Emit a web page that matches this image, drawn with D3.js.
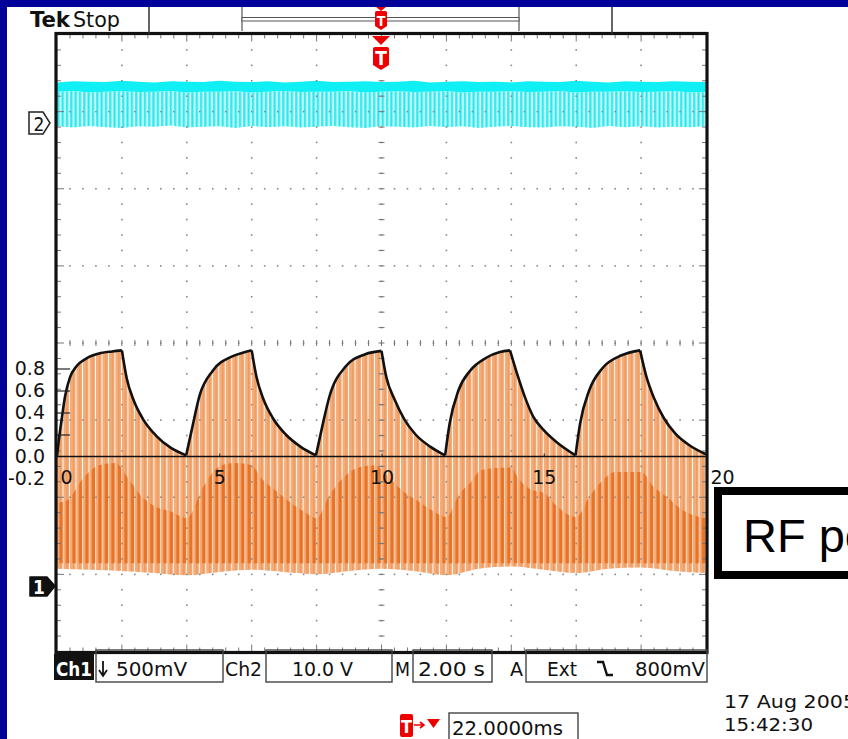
<!DOCTYPE html>
<html><head><meta charset="utf-8">
<script src="https://cdn.jsdelivr.net/npm/d3@7"></script>
<style>body{margin:0;background:#fff;overflow:hidden}svg{display:block}</style>
</head><body>
<svg id="c" width="848" height="739"></svg>
<script>
// ---------------- data ----------------
const timeDomain = [0, 20];
const xTickValues = [0, 5, 10, 15, 20];
const yTickValues = [-0.2, 0.0, 0.2, 0.4, 0.6, 0.8];

// black fitted envelope (overlay units)
const fitTime  = [0,0.07,0.14,0.25,0.4,0.6,0.9,1.35,1.7,2.0,
                  2.15,2.35,2.65,3.05,3.5,3.98,
                  4.15,4.4,4.8,5.4,5.75,6.0,
                  6.15,6.35,6.65,7.05,7.5,7.98,
                  8.15,8.4,8.9,9.5,10.0,
                  10.15,10.4,10.7,11.05,11.5,11.96,
                  12.1,12.37,12.73,13.24,13.65,13.96,
                  14.17,14.42,14.68,15.0,15.4,15.98,
                  16.12,16.4,16.8,17.4,17.97,
                  18.15,18.4,18.7,19.05,19.5,20.0];
const fitValue = [0,0.18,0.33,0.55,0.72,0.82,0.89,0.94,0.955,0.965,
                  0.71,0.52,0.34,0.19,0.08,0.01,
                  0.24,0.56,0.78,0.91,0.945,0.965,
                  0.72,0.53,0.35,0.2,0.09,0.01,
                  0.24,0.55,0.82,0.93,0.96,
                  0.72,0.52,0.34,0.2,0.09,0.01,
                  0.3,0.6,0.78,0.9,0.95,0.965,
                  0.76,0.54,0.36,0.24,0.13,0.01,
                  0.3,0.6,0.8,0.92,0.965,
                  0.74,0.53,0.35,0.21,0.1,0.02];

// upper edge of the darker pulse band below zero
const darkTime  = [0,0.3,0.8,1.3,1.8,2.2,2.6,3.0,3.5,4.0,4.5,5.0,5.5,6.0,6.3,6.7,7.2,7.6,8.0,
                   8.4,8.8,9.3,9.8,10.2,10.6,11.1,11.5,12.0,12.4,12.7,13.1,14.0,14.2,14.6,15.0,
                   15.4,16.0,16.4,16.8,17.2,18.0,18.4,18.8,19.3,19.8,20];
const darkValue = [-0.42,-0.4,-0.2,-0.08,-0.06,-0.2,-0.36,-0.45,-0.5,-0.56,-0.28,-0.09,-0.06,-0.08,-0.2,-0.3,-0.42,-0.5,-0.56,
                   -0.35,-0.2,-0.1,-0.08,-0.18,-0.3,-0.4,-0.48,-0.55,-0.34,-0.25,-0.12,-0.1,-0.19,-0.3,-0.33,
                   -0.45,-0.55,-0.37,-0.22,-0.14,-0.14,-0.28,-0.37,-0.49,-0.55,-0.56];

// lower edge of the Ch1 pulses
const lowTime  = [0,1,2,3,4,5,6,7,8,9,10,11,12,13,14,15,16,17,18,19,20];
const lowValue = [-1.02,-1.03,-1.04,-1.06,-1.08,-1.05,-1.03,-1.05,-1.07,-1.04,-1.02,-1.04,-1.08,-1.02,-1.0,-1.03,-1.06,-1.02,-1.01,-1.04,-1.06];

// Ch2 (volts, 10 V/div)
const ch2Time = [0,0.5,1,1.5,2,2.5,3,3.5,4,4.5,5,5.5,6,6.5,7,7.5,8,8.5,9,9.5,10,10.5,11,11.5,12,12.5,13,13.5,14,14.5,15,15.5,16,16.5,17,17.5,18,18.5,19,19.5,20];
const ch2High = [5.2,5.35,5.3,5.25,5.4,5.3,5.2,5.35,5.3,5.25,5.4,5.3,5.25,5.35,5.2,5.3,5.4,5.25,5.3,5.35,5.25,5.3,5.4,5.2,5.3,5.35,5.25,5.3,5.2,5.35,5.3,5.25,5.4,5.3,5.2,5.35,5.3,5.25,5.35,5.3,5.25];
const ch2Band = [4.0,4.1,3.9,4.0,4.05,3.95,4.0,4.1,3.9,4.0,4.0,4.05,3.9,4.0,4.1,3.95,4.0,4.0,4.1,3.9,4.0,4.05,3.95,4.0,4.1,3.9,4.0,4.0,4.05,3.95,4.0,4.1,3.9,4.0,4.0,4.05,3.95,4.0,4.1,3.9,4.0];
const ch2Low  = [-0.5,-0.65,-0.45,-0.6,-0.7,-0.5,-0.55,-0.4,-0.65,-0.55,-0.5,-0.7,-0.45,-0.6,-0.5,-0.65,-0.55,-0.45,-0.6,-0.7,-0.5,-0.55,-0.65,-0.45,-0.6,-0.5,-0.7,-0.55,-0.45,-0.6,-0.65,-0.5,-0.55,-0.7,-0.45,-0.6,-0.5,-0.65,-0.55,-0.6,-0.5];

const pulsePeriod = 0.2;     // Ch1 RF pulse spacing (overlay units)
const ch2Period = 0.1333;    // Ch2 pulse spacing

const statusTexts = {ch1:"Ch1", ch1Scale:"500mV", ch2:"Ch2", ch2Scale:"10.0 V", m:"M", time:"2.00 s", a:"A", src:"Ext", level:"800mV"};
const triggerText = "22.0000ms";
const dateText = "17 Aug 2005";
const clockText = "15:42:30";
const boxText = "RF power";

// ---------------- drawing ----------------
const svg = d3.select("#c");
const W = 848, H = 739;
const L = 57, R = 706, T = 34.5, B = 651.5;
const x = d3.scaleLinear().domain(timeDomain).range([L, R]);
const y = d3.scaleLinear().domain([0, 1]).range([456.5, 346.5]);
const gx = d3.scaleLinear().domain([0, 10]).range([L, R]);
const gy = d3.scaleLinear().domain([0, 8]).range([T, B]);
const y2 = d3.scaleLinear().domain([0, 10]).range([122.5, 122.5 - 77.1]);
const COND = "'DejaVu Sans Condensed','DejaVu Sans',sans-serif";

svg.append("rect").attr("width", W).attr("height", H).attr("fill", "#fff");

const defs = svg.append("defs");
const pw = x(pulsePeriod) - x(0);
const pl = defs.append("pattern").attr("id", "lightP").attr("patternUnits", "userSpaceOnUse")
  .attr("x", L).attr("y", 0).attr("width", pw).attr("height", 20);
pl.append("rect").attr("width", pw).attr("height", 20).attr("fill", "#fff");
pl.append("rect").attr("x", 0).attr("width", pw - 0.9).attr("height", 20).attr("fill", "#f4ad7a");
pl.append("rect").attr("x", pw * 0.45).attr("width", 1.2).attr("height", 20).attr("fill", "#ee9655");
const pd = defs.append("pattern").attr("id", "darkP").attr("patternUnits", "userSpaceOnUse")
  .attr("x", L).attr("y", 0).attr("width", pw).attr("height", 20);
pd.append("rect").attr("x", pw * 0.36).attr("width", 3.5).attr("height", 20).attr("fill", "#e87325");
const cw = x(ch2Period) - x(0);
const pc = defs.append("pattern").attr("id", "cyanP").attr("patternUnits", "userSpaceOnUse")
  .attr("x", L).attr("y", 0).attr("width", cw).attr("height", 20);
pc.append("rect").attr("width", cw).attr("height", 20).attr("fill", "#fff");
pc.append("rect").attr("width", cw - 0.7).attr("height", 20).attr("fill", "#a6f6f7");
pc.append("rect").attr("x", 0.3).attr("width", 1.9).attr("height", 20).attr("fill", "#1feaf0");

// ---- Ch2 trace ----
const ch2Pts = ch2Time.map((t, i) => ({t, hi: ch2High[i], band: ch2Band[i], lo: ch2Low[i]}));
svg.append("path").datum(ch2Pts)
  .attr("d", d3.area().x(d => x(d.t)).y0(d => y2(d.lo)).y1(d => y2(d.band)))
  .attr("fill", "url(#cyanP)");
svg.append("path").datum(ch2Pts)
  .attr("d", d3.area().x(d => x(d.t)).y0(d => y2(d.band)).y1(d => y2(d.hi)))
  .attr("fill", "#10f0f4");

// ---- Ch1 pulses ----
const lowPts = lowTime.map((t, i) => ({t, v: lowValue[i]}));
svg.append("path").datum(lowPts)
  .attr("d", d3.area().x(d => x(d.t)).y0(d => y(d.v)).y1(y(0)).curve(d3.curveMonotoneX))
  .attr("fill", "url(#lightP)");

const fitPts = fitTime.map((t, i) => ({t, v: fitValue[i]}));
const segments = [];
let start = 0;
for (let i = 1; i < fitPts.length - 1; i++) {
  const a = fitPts[i].v - fitPts[i - 1].v, b = fitPts[i + 1].v - fitPts[i].v;
  if (a * b < 0) { segments.push(fitPts.slice(start, i + 1)); start = i; }
}
segments.push(fitPts.slice(start));
const upArea = d3.area().x(d => x(d.t)).y0(y(0)).y1(d => y(d.v)).curve(d3.curveMonotoneX);
segments.forEach(s => svg.append("path").datum(s).attr("d", upArea).attr("fill", "url(#lightP)"));

const darkPts = darkTime.map((t, i) => ({t, v: darkValue[i]}));
svg.append("path").datum(darkPts)
  .attr("d", d3.area().x(d => x(d.t)).y0(y(-0.97)).y1(d => y(d.v)).curve(d3.curveMonotoneX))
  .attr("fill", "url(#darkP)");

// ---- graticule ----
const grat = svg.append("g").attr("fill", "#888");
for (let i = 1; i < 10; i++) for (let k = 1; k < 40; k++) {
  if (k % 5 === 0) continue;
  grat.append("rect").attr("x", gx(i) - 0.8).attr("y", gy(k / 5) - 0.8).attr("width", 1.6).attr("height", 1.6);
}
for (let j = 1; j < 8; j++) for (let k = 0; k <= 50; k++) {
  grat.append("rect").attr("x", gx(k / 5) - 0.8).attr("y", gy(j) - 0.8).attr("width", 1.6).attr("height", 1.6);
}
const tk = svg.append("g").attr("stroke", "#777").attr("stroke-width", 1);
for (let k = 1; k < 50; k++) {
  const xx = gx(k / 5), len = k % 5 === 0 ? 7 : 4;
  tk.append("line").attr("x1", xx).attr("x2", xx).attr("y1", T).attr("y2", T + len);
  tk.append("line").attr("x1", xx).attr("x2", xx).attr("y1", B).attr("y2", B - len);
  tk.append("line").attr("x1", xx).attr("x2", xx).attr("y1", gy(4) - 3).attr("y2", gy(4) + 3);
}
for (let k = 1; k < 40; k++) {
  const yy = gy(k / 5), len = k % 5 === 0 ? 7 : 4;
  tk.append("line").attr("x1", L).attr("x2", L + len).attr("y1", yy).attr("y2", yy);
  tk.append("line").attr("x1", R).attr("x2", R - len).attr("y1", yy).attr("y2", yy);
  tk.append("line").attr("x1", gx(5) - 3).attr("x2", gx(5) + 3).attr("y1", yy).attr("y2", yy);
}

// ---- fitted curve + zero line ----
const line = d3.line().x(d => x(d.t)).y(d => y(d.v)).curve(d3.curveMonotoneX);
segments.forEach(s => svg.append("path").datum(s).attr("d", line)
  .attr("fill", "none").attr("stroke", "#111").attr("stroke-width", 2.6).attr("stroke-linejoin", "round"));
svg.append("line").attr("x1", L).attr("x2", R).attr("y1", y(0)).attr("y2", y(0))
  .attr("stroke", "#111").attr("stroke-width", 1.4);

// ---- overlay axes ----
const yAx = svg.append("g").attr("transform", `translate(${L},0)`)
  .call(d3.axisLeft(y).tickValues(yTickValues).tickSizeInner(-13).tickSizeOuter(0).tickPadding(12)
    .tickFormat(d => d3.format(".1f")(d).replace("\u2212", "-")));
yAx.select(".domain").remove();
yAx.selectAll("line").attr("stroke", "#222").attr("stroke-width", 1.2);
yAx.selectAll("text").attr("font-family", "'DejaVu Sans',sans-serif").attr("font-size", 19).attr("fill", "#111");
yAx.selectAll(".tick").filter(d => d <= 0).select("line").remove();

const xAx = svg.append("g").attr("transform", `translate(0,${y(0)})`)
  .call(d3.axisBottom(x).tickValues(xTickValues).tickSizeInner(-3).tickSizeOuter(0).tickPadding(14));
xAx.select(".domain").remove();
xAx.selectAll("line").attr("stroke", "#222");
xAx.selectAll("text").attr("font-family", "'DejaVu Sans',sans-serif").attr("font-size", 19).attr("fill", "#111");
xAx.selectAll(".tick").filter(d => d === timeDomain[0]).select("text").attr("text-anchor", "start").attr("x", 3);
xAx.selectAll(".tick").filter(d => d === timeDomain[1]).select("text").attr("text-anchor", "start").attr("x", 4);

// ---- frame ----
svg.append("rect").attr("x", L - 1).attr("y", T - 1).attr("width", R - L + 2).attr("height", B - T + 2)
  .attr("fill", "none").attr("stroke", "#111").attr("stroke-width", 3.2);

// ---- channel markers ----
svg.append("path").attr("d", "M29,112 H43 L50,123 L43,134 H29 Z").attr("fill", "#fff").attr("stroke", "#222").attr("stroke-width", 1.5);
svg.append("text").attr("x", 39).attr("y", 131).attr("text-anchor", "middle").attr("font-family", COND)
  .attr("font-size", 19).attr("fill", "#111").text("2");
svg.append("path").attr("d", "M30,577 H47 L55,586 L47,596 H30 Z").attr("fill", "#111").attr("stroke", "#111").attr("stroke-width", 1.5).attr("stroke-linejoin", "round");
svg.append("text").attr("x", 39).attr("y", 594).attr("text-anchor", "middle").attr("font-family", COND)
  .attr("font-weight", "bold").attr("font-size", 19).attr("fill", "#fff").text("1");

// ---- header ----
svg.append("text").attr("x", 30).attr("y", 27).attr("font-family", COND).attr("font-weight", "bold")
  .attr("font-size", 21).attr("fill", "#111").attr("textLength", 40).attr("lengthAdjust", "spacingAndGlyphs").text("Tek");
svg.append("text").attr("x", 73).attr("y", 27).attr("font-family", COND)
  .attr("font-size", 21).attr("fill", "#111").attr("textLength", 47).attr("lengthAdjust", "spacingAndGlyphs").text("Stop");
svg.append("line").attr("x1", 149).attr("x2", 149).attr("y1", 7).attr("y2", 34).attr("stroke", "#333").attr("stroke-width", 1.5);
svg.append("line").attr("x1", 612).attr("x2", 612).attr("y1", 7).attr("y2", 34).attr("stroke", "#333").attr("stroke-width", 1.5);
svg.append("line").attr("x1", 242).attr("x2", 242).attr("y1", 7).attr("y2", 31).attr("stroke", "#555").attr("stroke-width", 1.2);
svg.append("line").attr("x1", 519).attr("x2", 519).attr("y1", 7).attr("y2", 31).attr("stroke", "#555").attr("stroke-width", 1.2);
svg.append("rect").attr("x", 242).attr("y", 17.5).attr("width", 277).attr("height", 3.5)
  .attr("fill", "#fff").attr("stroke", "#555").attr("stroke-width", 1);
// trigger markers
svg.append("path").attr("d", "M376,7 H386 L381,11 Z").attr("fill", "#e00");
svg.append("path").attr("d", "M375,12.5 Q375,11 376.5,11 H385.5 Q387,11 387,12.5 V26 L381,30 L375,26 Z").attr("fill", "#e00");
svg.append("text").attr("x", 381).attr("y", 26).attr("text-anchor", "middle").attr("font-family", COND)
  .attr("font-weight", "bold").attr("font-size", 14).attr("fill", "#fff").text("T");
svg.append("path").attr("d", "M372,36 H390 L381,45 Z").attr("fill", "#e00");
svg.append("path").attr("d", "M373,49 Q373,47 375,47 H387 Q389,47 389,49 V65 L381,70 L373,65 Z").attr("fill", "#e00");
svg.append("text").attr("x", 381).attr("y", 65).attr("text-anchor", "middle").attr("font-family", COND)
  .attr("font-weight", "bold").attr("font-size", 19).attr("fill", "#fff").text("T");

// ---- status bar ----
svg.append("rect").attr("x", 54).attr("y", 654).attr("width", 40).attr("height", 26).attr("fill", "#111");
[[96, 223], [266, 392], [413, 492], [526, 707]].forEach(([a, b]) =>
  svg.append("rect").attr("x", a).attr("y", 650).attr("width", b - a).attr("height", 32)
    .attr("fill", "none").attr("stroke", "#444").attr("stroke-width", 1.4));
const st = svg.append("g").attr("font-family", COND).attr("font-size", 20).attr("fill", "#111");
st.append("text").attr("x", 56).attr("y", 676).attr("fill", "#fff").attr("font-weight", "bold")
  .attr("textLength", 36).attr("lengthAdjust", "spacingAndGlyphs").text(statusTexts.ch1);
svg.append("path").attr("d", "M103,661 V675 M99,670 L103,676 L107,670").attr("fill", "none").attr("stroke", "#111").attr("stroke-width", 1.8);
const tx = (xx, w, s) => st.append("text").attr("x", xx).attr("y", 676).attr("textLength", w).attr("lengthAdjust", "spacingAndGlyphs").text(s);
tx(116, 71, statusTexts.ch1Scale);
tx(225, 37, statusTexts.ch2);
tx(292, 61, statusTexts.ch2Scale);
tx(395, 15, statusTexts.m);
tx(418, 67, statusTexts.time);
tx(510, 13, statusTexts.a);
tx(547, 30, statusTexts.src);
tx(635, 70, statusTexts.level);
svg.append("path").attr("d", "M597,662 H603 L607,675 H613").attr("fill", "none").attr("stroke", "#111").attr("stroke-width", 2.4);

// trigger position
svg.append("path").attr("d", "M400,716 Q400,714 402,714 H411 Q413,714 413,716 V735 Q413,737 411,737 H402 Q400,737 400,735 Z").attr("fill", "#e00");
svg.append("text").attr("x", 406.5).attr("y", 733).attr("text-anchor", "middle").attr("font-family", COND)
  .attr("font-weight", "bold").attr("font-size", 18).attr("fill", "#fff").text("T");
svg.append("path").attr("d", "M414,725 H423 M420,722 L424,725 L420,728").attr("fill", "none").attr("stroke", "#e00").attr("stroke-width", 1.6);
svg.append("path").attr("d", "M427,719 H440 L433.5,728 Z").attr("fill", "#e00");
svg.append("rect").attr("x", 449).attr("y", 713).attr("width", 129).attr("height", 32)
  .attr("fill", "none").attr("stroke", "#444").attr("stroke-width", 1.4);
st.append("text").attr("x", 452).attr("y", 735).attr("textLength", 111).attr("lengthAdjust", "spacingAndGlyphs").text(triggerText);
st.append("text").attr("x", 724).attr("y", 708).attr("font-size", 18).attr("textLength", 132).attr("lengthAdjust", "spacingAndGlyphs").text(dateText);
st.append("text").attr("x", 724).attr("y", 731).attr("font-size", 18).attr("textLength", 89).attr("lengthAdjust", "spacingAndGlyphs").text(clockText);

// ---- RF box ----
svg.append("rect").attr("x", 718).attr("y", 491).attr("width", 200).attr("height", 84)
  .attr("fill", "#fff").attr("stroke", "#000").attr("stroke-width", 8);
svg.append("text").attr("x", 743).attr("y", 552).attr("font-family", "'Liberation Sans',Arial,sans-serif")
  .attr("font-size", 47).attr("fill", "#000").text(boxText);

// ---- blue border ----
svg.append("rect").attr("x", 0).attr("y", 0).attr("width", W).attr("height", 7).attr("fill", "#000099");
svg.append("rect").attr("x", 0).attr("y", 0).attr("width", 7).attr("height", H).attr("fill", "#000099");
</script>
</body></html>
